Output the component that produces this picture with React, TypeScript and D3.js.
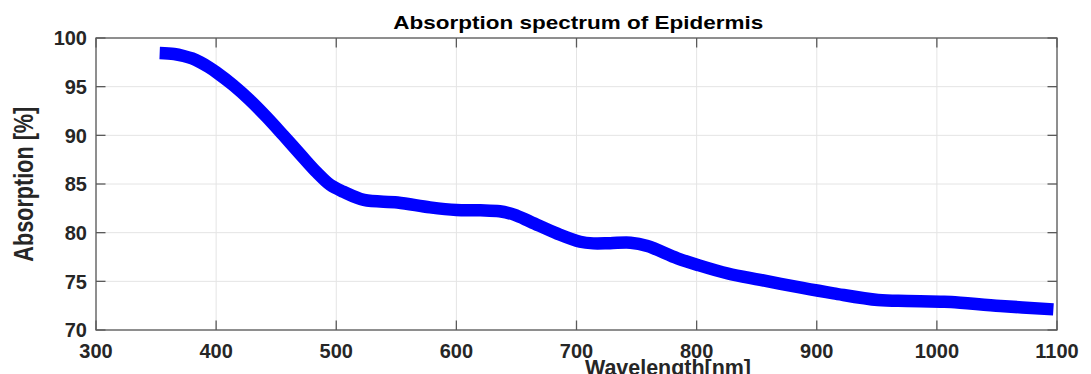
import React from "react";
import * as d3 from "d3";

const wavelengths = [353, 365, 373, 380, 387, 394, 400, 414, 428, 442, 456, 470, 484, 495, 506, 523, 551, 578, 600, 620, 636, 648, 662, 684, 703, 714, 728, 745, 759, 784, 801, 826, 853, 887, 914, 951, 975, 1003, 1012, 1053, 1097];
const absorption = [98.45, 98.35, 98.15, 97.9, 97.5, 97.0, 96.5, 95.17, 93.63, 91.88, 89.99, 88.06, 86.16, 84.9, 84.2, 83.36, 83.1, 82.6, 82.33, 82.3, 82.2, 81.85, 81.1, 79.9, 79.07, 78.9, 78.92, 78.97, 78.63, 77.37, 76.68, 75.8, 75.15, 74.35, 73.77, 73.08, 72.98, 72.91, 72.88, 72.47, 72.12];
const xTicks = [300, 400, 500, 600, 700, 800, 900, 1000, 1100];
const yTicks = [70, 75, 80, 85, 90, 95, 100];
const titleText = "Absorption spectrum of Epidermis";
const xLabelText = "Wavelength[nm]";
const yLabelText = "Absorption [%]";

const W = 1091, H = 374;
const L = 96, R = 1057, T = 38, B = 330;
const FONT = "'Liberation Sans', Arial, Helvetica, sans-serif";

export default function App() {
  const x = d3.scaleLinear().domain([300, 1100]).range([L, R]);
  const y = d3.scaleLinear().domain([70, 100]).range([B, T]);
  const pts = wavelengths.map((w, i) => [w, absorption[i]] as [number, number]);
  const line = d3.line<[number, number]>().x(d => x(d[0])).y(d => y(d[1])).curve(d3.curveCatmullRom.alpha(0.5));
  const axisColor = "#5a5a5a";
  const gridColor = "#e4e4e4";
  const tickLen = 9.5;
  return (
    <svg width={W} height={H} style={{ position: "absolute", left: 0, top: 0, background: "#fff" }} fontFamily={FONT}>
      <rect x={0} y={0} width={W} height={H} fill="#fff" />
      {xTicks.map(t => (
        <line key={"gx" + t} x1={x(t)} x2={x(t)} y1={T} y2={B} stroke={gridColor} strokeWidth={1} />
      ))}
      {yTicks.map(t => (
        <line key={"gy" + t} x1={L} x2={R} y1={y(t)} y2={y(t)} stroke={gridColor} strokeWidth={1} />
      ))}
      <path d={line(pts) || ""} fill="none" stroke="#0000ff" strokeWidth={12.5} strokeLinecap="butt" strokeLinejoin="round" />
      <rect x={L} y={T} width={R - L} height={B - T} fill="none" stroke={axisColor} strokeWidth={1.3} />
      {xTicks.map(t => (
        <g key={"tx" + t}>
          <line x1={x(t)} x2={x(t)} y1={B} y2={B - tickLen} stroke={axisColor} strokeWidth={1.3} />
          <line x1={x(t)} x2={x(t)} y1={T} y2={T + tickLen} stroke={axisColor} strokeWidth={1.3} />
        </g>
      ))}
      {yTicks.map(t => (
        <g key={"ty" + t}>
          <line x1={L} x2={L + tickLen} y1={y(t)} y2={y(t)} stroke={axisColor} strokeWidth={1.3} />
          <line x1={R} x2={R - tickLen} y1={y(t)} y2={y(t)} stroke={axisColor} strokeWidth={1.3} />
        </g>
      ))}
      {xTicks.map(t => (
        <text key={"lx" + t} x={x(t)} y={358} textAnchor="middle" fontSize={20} fontWeight="bold" fill="#262626">{t}</text>
      ))}
      {yTicks.map(t => (
        <text key={"ly" + t} x={87} y={y(t) + 7.2} textAnchor="end" fontSize={20} fontWeight="bold" fill="#262626">{t}</text>
      ))}
      <text x={578.3} y={29.3} textAnchor="middle" fontSize={17.7} fontWeight="bold" fill="#000" textLength={370} lengthAdjust="spacingAndGlyphs">{titleText}</text>
      <text x={668} y={374.5} textAnchor="middle" fontSize={22.5} fontWeight="bold" fill="#262626" textLength={166} lengthAdjust="spacingAndGlyphs">{xLabelText}</text>
      <g transform="translate(32.7,184.2) scale(1.25,1) rotate(-90)">
        <text x={0} y={0} textAnchor="middle" fontSize={21.6} fontWeight="bold" fill="#262626" textLength={155} lengthAdjust="spacingAndGlyphs">{yLabelText}</text>
      </g>
    </svg>
  );
}
